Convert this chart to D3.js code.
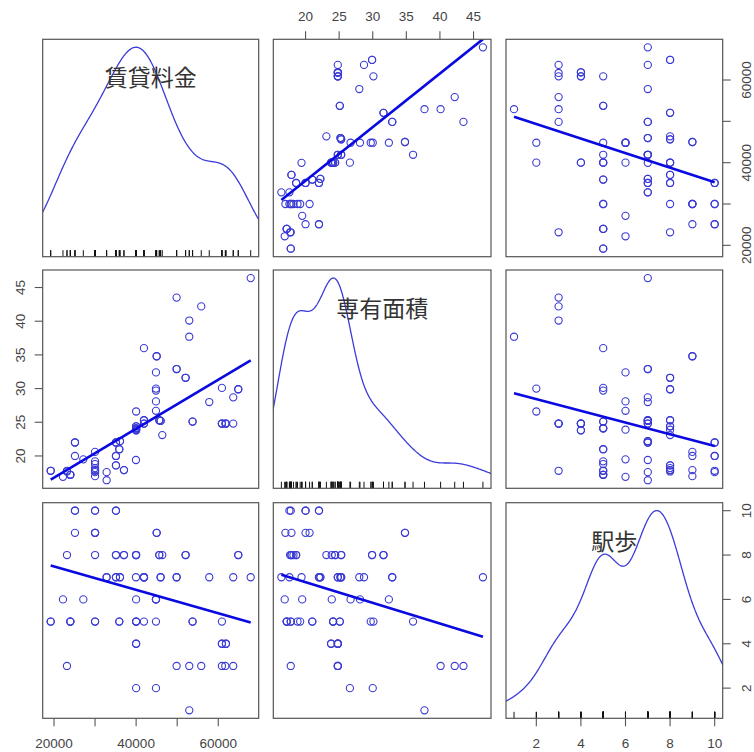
<!DOCTYPE html>
<html><head><meta charset="utf-8">
<script src="https://cdn.jsdelivr.net/npm/d3@7"></script>
<style>body{margin:0;background:#fff;}</style>
</head><body>
<svg id="c" width="754" height="752"></svg>
<script>
// ---- data ----
const varNames = ["賃貸料金", "専有面積", "駅歩"];
const rent = [52940, 40000, 44830, 23160, 49860, 52940, 55860, 60890, 61710, 63650,
  40000, 60890, 61870, 19200, 23980, 30000, 30000, 35900, 40000, 41910,
  44830, 53750, 60890, 22190, 27140, 40000, 44830, 44830, 44830, 32820,
  32820, 35090, 36070, 39960, 41910, 41910, 45960, 49860, 57810, 63650,
  67900, 23160, 30000, 35090, 37040, 39960, 40000, 45640, 46370, 52050,
  64870, 25110, 30000, 30000, 30000, 45000, 25110, 30000, 30000, 35090,
  40000, 60890, 40000, 40000, 53750, 23980, 35900, 41910, 45960, 35090,
  41910, 45640, 40000, 35090, 37040, 25110, 45000, 52050, 64870, 49860,
  19200, 23980, 35090, 36070, 61870];
const area = [37.7, 26.6, 30.0, 17.8, 43.5, 40.1, 42.2, 24.8, 24.8, 24.8,
  23.8, 24.8, 24.8, 17.8, 17.2, 18.8, 19.2, 21.0, 24.1, 36.0,
  29.7, 25.1, 30.1, 16.9, 19.5, 23.9, 26.7, 28.1, 32.4, 16.4,
  17.6, 22.0, 22.2, 19.4, 24.8, 25.3, 25.2, 32.9, 28.0, 28.7,
  46.4, 17.7, 18.2, 18.6, 17.9, 23.9, 24.4, 25.3, 23.1, 31.6,
  29.9, 20.0, 20.6, 17.9, 17.0, 34.8, 22.0, 17.8, 17.6, 20.0,
  23.8, 24.8, 24.1, 24.1, 25.1, 17.2, 21.0, 24.8, 25.2, 22.0,
  25.3, 25.3, 24.4, 18.6, 17.9, 22.0, 34.8, 31.6, 29.9, 32.9,
  17.8, 17.2, 20.0, 22.2, 24.8];
const walk = [1, 2, 2, 3, 3, 3, 3, 3, 3, 3,
  4, 4, 4, 5, 5, 5, 5, 5, 5, 5,
  5, 5, 5, 6, 6, 6, 6, 6, 6, 7,
  7, 7, 7, 7, 7, 7, 7, 7, 7, 7,
  7, 8, 8, 8, 8, 8, 8, 8, 8, 8,
  8, 9, 9, 9, 9, 9, 10, 10, 10, 10,
  4, 4, 5, 5, 5, 5, 5, 7, 7, 7,
  7, 8, 8, 8, 8, 10, 9, 8, 8, 7,
  5, 5, 10, 7, 4];
const rentTicks = [20000, 30000, 40000, 50000, 60000];
const rentLabels = [20000, 40000, 60000];
const areaTicks = [20, 25, 30, 35, 40, 45];
const walkTicks = [2, 4, 6, 8, 10];
const densityAdjust = [1.1, 1.12, 0.95];

// ---- layout ----
const colX = [42.7, 273.3, 506.0];
const colW = [216.0, 217.7, 216.7];
const rowY = [39.3, 270.0, 502.7];
const rowH = [217.4, 218.3, 215.6];

const data = [rent, area, walk];
const ticks = [rentTicks, areaTicks, walkTicks];
const labels = [rentLabels, areaTicks, walkTicks];

const svg = d3.select("#c");
const fontTick = "'Liberation Sans', Arial, sans-serif";
const ptColor = "#3a3ad4";
const lineColor = "#0a0ae0";

function padDomain(v) {
  const mn = d3.min(v), mx = d3.max(v), r = mx - mn;
  return [mn - 0.04 * r, mx + 0.04 * r];
}
const xS = data.map((v, k) => d3.scaleLinear().domain(padDomain(v)).range([colX[k], colX[k] + colW[k]]));
const yS = data.map((v, k) => d3.scaleLinear().domain(padDomain(v)).range([rowY[k] + rowH[k], rowY[k]]));

function bwNrd0(x) {
  const s = d3.deviation(x);
  const sorted = x.slice().sort((a, b) => a - b);
  const iqr = d3.quantileSorted(sorted, 0.75) - d3.quantileSorted(sorted, 0.25);
  let lo = Math.min(s, iqr / 1.34);
  if (!(lo > 0)) lo = s;
  return 0.9 * lo * Math.pow(x.length, -0.2);
}
function kde(x, adjust) {
  const n = x.length, bw = bwNrd0(x) * adjust;
  const lo = d3.min(x) - 3 * bw, hi = d3.max(x) + 3 * bw, N = 512;
  const out = [];
  for (let i = 0; i < N; i++) {
    const g = lo + (hi - lo) * i / (N - 1);
    let s = 0;
    for (const v of x) s += Math.exp(-0.5 * ((g - v) / bw) ** 2);
    out.push([g, s / (n * bw * Math.sqrt(2 * Math.PI))]);
  }
  return out;
}
function linreg(x, y) {
  const mx = d3.mean(x), my = d3.mean(y);
  let sxy = 0, sxx = 0;
  for (let i = 0; i < x.length; i++) { sxy += (x[i] - mx) * (y[i] - my); sxx += (x[i] - mx) ** 2; }
  const b = sxy / sxx;
  return { a: my - b * mx, b };
}

const defs = svg.append("defs");

for (let i = 0; i < 3; i++) {
  for (let j = 0; j < 3; j++) {
    const g = svg.append("g");
    const clipId = "clip" + i + j;
    defs.append("clipPath").attr("id", clipId).append("rect")
      .attr("x", colX[j]).attr("y", rowY[i]).attr("width", colW[j]).attr("height", rowH[i]);
    const xs = xS[j], ys = yS[i];
    if (i === j) {
      const x = data[i];
      const dens = kde(x, densityAdjust[i]);
      const dmin = d3.min(dens, d => d[1]), dmax = d3.max(dens, d => d[1]);
      const mn = d3.min(x), rng = d3.max(x) - mn;
      const line = d3.line().x(d => xs(d[0])).y(d => ys(mn + d[1] * rng / (dmax - dmin)));
      g.append("path").attr("d", line(dens)).attr("fill", "none")
        .attr("stroke", "#3c3cd8").attr("stroke-width", 1.3).attr("clip-path", `url(#${clipId})`);
      // rug
      const b = rowY[i] + rowH[i];
      g.selectAll("line.rug").data(x).enter().append("line")
        .attr("x1", d => xs(d)).attr("x2", d => xs(d))
        .attr("y1", b).attr("y2", b - 0.03 * rowH[i])
        .attr("stroke", "#111").attr("stroke-width", 1);
      g.append("text").text(varNames[i])
        .attr("x", colX[j] + colW[j] / 2).attr("y", rowY[i] + 47)
        .attr("text-anchor", "middle")
        .attr("font-family", "'Noto Sans CJK JP', sans-serif")
        .attr("font-size", 23).attr("fill", "#333");
    } else {
      const xv = data[j], yv = data[i];
      g.selectAll("circle").data(d3.range(xv.length)).enter().append("circle")
        .attr("cx", k => xs(xv[k])).attr("cy", k => ys(yv[k])).attr("r", 3.6)
        .attr("fill", "none").attr("stroke", ptColor).attr("stroke-width", 1.1);
      const { a, b } = linreg(xv, yv);
      const x0 = d3.min(xv), x1 = d3.max(xv);
      g.append("line")
        .attr("x1", xs(x0)).attr("y1", ys(a + b * x0))
        .attr("x2", xs(x1)).attr("y2", ys(a + b * x1))
        .attr("stroke", lineColor).attr("stroke-width", 2.6)
        .attr("clip-path", `url(#${clipId})`);
    }
    g.append("rect").attr("x", colX[j]).attr("y", rowY[i])
      .attr("width", colW[j]).attr("height", rowH[i])
      .attr("fill", "none").attr("stroke", "#555").attr("stroke-width", 1.2);
  }
}

// ---- axes ----
const axG = svg.append("g").attr("font-family", fontTick).attr("font-size", 13.5).attr("fill", "#444");
const tickLen = 8;
function hAxis(k, yPos, dir, baseline) {
  const s = xS[k];
  ticks[k].forEach(t => {
    axG.append("line").attr("x1", s(t)).attr("x2", s(t)).attr("y1", yPos).attr("y2", yPos + dir * tickLen)
      .attr("stroke", "#555").attr("stroke-width", 1.1);
  });
  labels[k].forEach(t => {
    axG.append("text").text(t).attr("x", s(t)).attr("y", baseline).attr("text-anchor", "middle");
  });
}
function vAxis(k, xPos, dir, baseline) {
  const s = yS[k];
  ticks[k].forEach(t => {
    axG.append("line").attr("y1", s(t)).attr("y2", s(t)).attr("x1", xPos).attr("x2", xPos + dir * tickLen)
      .attr("stroke", "#555").attr("stroke-width", 1.1);
  });
  labels[k].forEach(t => {
    axG.append("text").text(t).attr("text-anchor", "middle")
      .attr("transform", `translate(${baseline},${s(t)}) rotate(-90)`);
  });
}
hAxis(0, rowY[2] + rowH[2], 1, 748);
hAxis(2, rowY[2] + rowH[2], 1, 748);
hAxis(1, rowY[0], -1, 21);
vAxis(1, colX[0], -1, 25);
vAxis(0, colX[2] + colW[2], 1, 751);
vAxis(2, colX[2] + colW[2], 1, 751);
</script>
</body></html>
